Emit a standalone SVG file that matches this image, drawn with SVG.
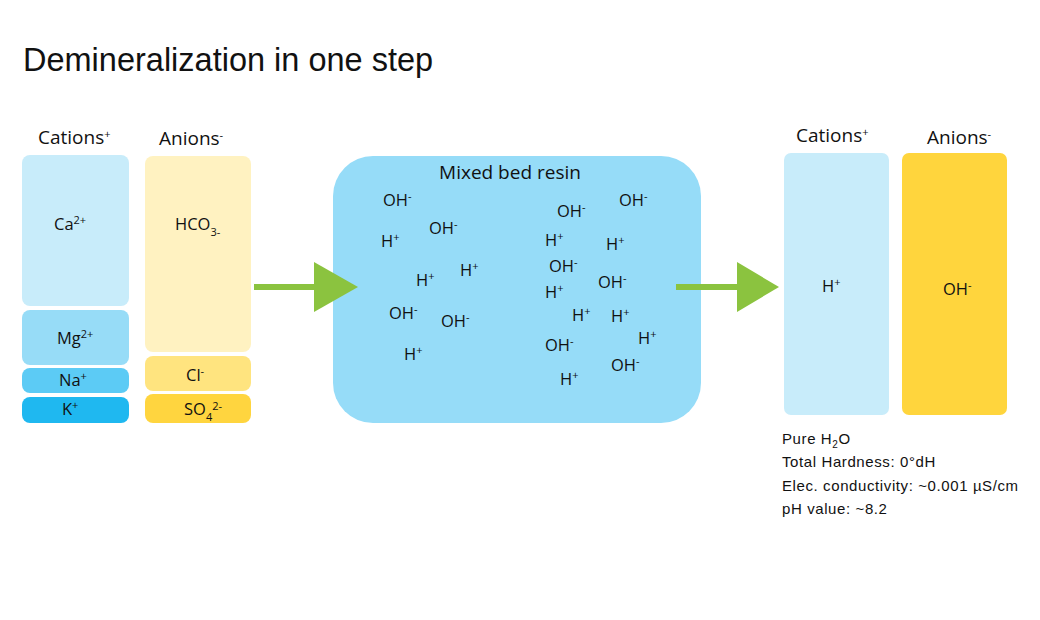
<svg xmlns="http://www.w3.org/2000/svg" width="1040" height="620" viewBox="0 0 1040 620">
<style>
.t{font-family:"Open Sans","DejaVu Sans",sans-serif;fill:#111}
.h{font-family:"Liberation Sans",Arial,sans-serif;fill:#111}
.ion{font-size:16.5px}
.lab{font-size:19px}
.s{font-size:11px}
.arrow{fill:#8bc33f}
</style>
<rect width="1040" height="620" fill="#ffffff"/>
<text class="h" x="23" y="71" font-size="32.5">Demineralization in one step</text>
<g id="left-cations">
<text class="t lab" x="38" y="144">Cations<tspan class="s" dy="-6">+</tspan></text>
<rect x="22" y="155" width="107" height="151" rx="8" fill="#c8ecfa"/>
<text class="t ion" x="54" y="230">Ca<tspan class="s" dy="-6">2+</tspan></text>
<rect x="22" y="310" width="107" height="55" rx="8" fill="#97dcf7"/>
<text class="t ion" x="57" y="344">Mg<tspan class="s" dy="-6">2+</tspan></text>
<rect x="22" y="368" width="107" height="25" rx="8" fill="#5ccbf5"/>
<text class="t ion" x="59" y="386">Na<tspan class="s" dy="-6">+</tspan></text>
<rect x="22" y="397" width="107" height="26" rx="8" fill="#1fb8f0"/>
<text class="t ion" x="62" y="415">K<tspan class="s" dy="-6">+</tspan></text>
</g>
<g id="left-anions">
<text class="t lab" x="159" y="145">Anions<tspan class="s" dy="-6">-</tspan></text>
<rect x="145" y="156" width="106" height="196" rx="8" fill="#fff2c1"/>
<text class="t ion" x="175" y="230">HCO<tspan class="s" dy="6">3-</tspan></text>
<rect x="145" y="356" width="106" height="35" rx="8" fill="#ffe47f"/>
<text class="t ion" x="186" y="381">Cl<tspan class="s" dy="-6">-</tspan></text>
<rect x="145" y="394" width="106" height="29" rx="8" fill="#ffd53f"/>
<text class="t ion" x="184" y="415">SO<tspan class="s" dy="6">4</tspan><tspan class="s" dy="-11">2-</tspan></text>
</g>
<g id="mixed-bed">
<rect x="333" y="156" width="368" height="267" rx="40" fill="#96dcf8"/>
<text class="t lab" x="510" y="179" text-anchor="middle">Mixed bed resin</text>
<g class="t ion">
<text x="383" y="206">OH<tspan class="s" dy="-6">-</tspan></text>
<text x="429" y="234">OH<tspan class="s" dy="-6">-</tspan></text>
<text x="381" y="247">H<tspan class="s" dy="-6">+</tspan></text>
<text x="416" y="286">H<tspan class="s" dy="-6">+</tspan></text>
<text x="460" y="276">H<tspan class="s" dy="-6">+</tspan></text>
<text x="389" y="319">OH<tspan class="s" dy="-6">-</tspan></text>
<text x="441" y="327">OH<tspan class="s" dy="-6">-</tspan></text>
<text x="404" y="360">H<tspan class="s" dy="-6">+</tspan></text>
<text x="557" y="217">OH<tspan class="s" dy="-6">-</tspan></text>
<text x="619" y="206">OH<tspan class="s" dy="-6">-</tspan></text>
<text x="545" y="246">H<tspan class="s" dy="-6">+</tspan></text>
<text x="606" y="250">H<tspan class="s" dy="-6">+</tspan></text>
<text x="549" y="272">OH<tspan class="s" dy="-6">-</tspan></text>
<text x="598" y="288">OH<tspan class="s" dy="-6">-</tspan></text>
<text x="545" y="298">H<tspan class="s" dy="-6">+</tspan></text>
<text x="572" y="321">H<tspan class="s" dy="-6">+</tspan></text>
<text x="611" y="322">H<tspan class="s" dy="-6">+</tspan></text>
<text x="638" y="344">H<tspan class="s" dy="-6">+</tspan></text>
<text x="545" y="351">OH<tspan class="s" dy="-6">-</tspan></text>
<text x="611" y="371">OH<tspan class="s" dy="-6">-</tspan></text>
<text x="560" y="385">H<tspan class="s" dy="-6">+</tspan></text>
</g>
</g>
<g id="right-cations">
<text class="t lab" x="796" y="142">Cations<tspan class="s" dy="-6">+</tspan></text>
<rect x="784" y="153" width="105" height="262" rx="7" fill="#c8ecfa"/>
<text class="t ion" x="822" y="292">H<tspan class="s" dy="-6">+</tspan></text>
</g>
<g id="right-anions">
<text class="t lab" x="927" y="144">Anions<tspan class="s" dy="-6">-</tspan></text>
<rect x="902" y="153" width="105" height="262" rx="7" fill="#ffd53d"/>
<text class="t ion" x="943" y="295">OH<tspan class="s" dy="-6">-</tspan></text>
</g>
<g id="connectors">
<rect class="arrow" x="254" y="284" width="62" height="6"/>
<polygon class="arrow" points="314,262 358,287 314,312"/>
<rect class="arrow" x="676" y="284" width="62" height="6"/>
<polygon class="arrow" points="737,262 779,287 737,312"/>
</g>
<g id="result" class="h" font-size="15" letter-spacing="0.6">
<text x="782" y="444">Pure H<tspan font-size="10" dy="4">2</tspan><tspan dy="-4">O</tspan></text>
<text x="782" y="467">Total Hardness: 0°dH</text>
<text x="782" y="491">Elec. conductivity: ~0.001 µS/cm</text>
<text x="782" y="514">pH value: ~8.2</text>
</g>
</svg>
